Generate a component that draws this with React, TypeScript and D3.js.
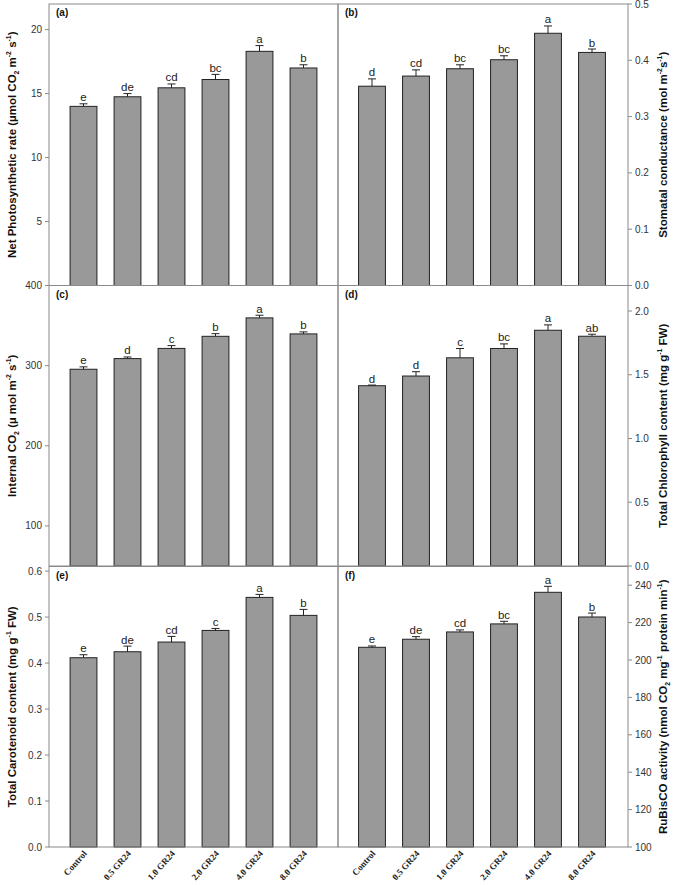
import React from "react";
import * as d3 from "d3";

const categories = ["Control", "0.5 GR24", "1.0 GR24", "2.0 GR24", "4.0 GR24", "8.0 GR24"];

const netPhotoValues = [14.0, 14.75, 15.45, 16.1, 18.3, 17.0];
const netPhotoErrors = [0.2, 0.25, 0.3, 0.4, 0.45, 0.25];
const netPhotoLetters = ["e", "de", "cd", "bc", "a", "b"];

const stomatalValues = [0.354, 0.372, 0.385, 0.401, 0.448, 0.414];
const stomatalErrors = [0.013, 0.011, 0.007, 0.007, 0.013, 0.006];
const stomatalLetters = ["d", "cd", "bc", "bc", "a", "b"];

const internalCO2Values = [295.5, 308.8, 321.5, 336.6, 359.6, 339.6];
const internalCO2Errors = [3, 2, 3.5, 3.3, 3.3, 2.5];
const internalCO2Letters = ["e", "d", "c", "b", "a", "b"];

const chlorophyllValues = [1.414, 1.49, 1.633, 1.706, 1.849, 1.802];
const chlorophyllErrors = [0.005, 0.034, 0.073, 0.036, 0.042, 0.016];
const chlorophyllLetters = ["d", "d", "c", "bc", "a", "ab"];

const carotenoidValues = [0.4116, 0.4246, 0.4457, 0.471, 0.5428, 0.5037];
const carotenoidErrors = [0.0065, 0.0123, 0.0123, 0.0043, 0.0065, 0.013];
const carotenoidLetters = ["e", "de", "cd", "c", "a", "b"];

const rubiscoValues = [206.8, 211.1, 215.0, 219.3, 236.2, 223.0];
const rubiscoErrors = [0.7, 1.4, 1.1, 1.4, 3.2, 2.1];
const rubiscoLetters = ["e", "de", "cd", "bc", "a", "b"];

const ticksA = [5, 10, 15, 20];
const ticksB = [0, 0.1, 0.2, 0.3, 0.4, 0.5];
const ticksC = [100, 200, 300, 400];
const ticksD = [0, 0.5, 1.0, 1.5, 2.0];
const ticksE = [0, 0.1, 0.2, 0.3, 0.4, 0.5, 0.6];
const ticksF = [100, 120, 140, 160, 180, 200, 220, 240];

type TitlePart = { t: string; s?: "sub" | "sup" };

const titleA: TitlePart[] = [
  { t: "Net Photosynthetic rate (µmol CO" }, { t: "2", s: "sub" }, { t: " m" }, { t: "-2", s: "sup" }, { t: " s" }, { t: "-1", s: "sup" }, { t: ")" },
];
const titleB: TitlePart[] = [
  { t: "Stomatal conductance (mol m" }, { t: "-2", s: "sup" }, { t: "s" }, { t: "-1", s: "sup" }, { t: ")" },
];
const titleC: TitlePart[] = [
  { t: "Internal CO" }, { t: "2", s: "sub" }, { t: " (µ mol m" }, { t: "-2", s: "sup" }, { t: " s" }, { t: "-1", s: "sup" }, { t: ")" },
];
const titleD: TitlePart[] = [
  { t: "Total Chlorophyll content  (mg g" }, { t: "-1", s: "sup" }, { t: " FW)" },
];
const titleE: TitlePart[] = [
  { t: "Total Carotenoid content (mg g" }, { t: "-1", s: "sup" }, { t: " FW)" },
];
const titleF: TitlePart[] = [
  { t: "RuBisCO activity (nmol CO" }, { t: "2", s: "sub" }, { t: " mg" }, { t: "-1", s: "sup" }, { t: " protein min" }, { t: "-1", s: "sup" }, { t: ")" },
];

const W = 676;
const H = 885;
const X0 = 49;
const XM = 338;
const X1 = 628;
const ROWS: [number, number][] = [
  [4, 285.5],
  [285.5, 566],
  [566.5, 847],
];

const FRAME = "#8a8a8a";
const SANS = "Liberation Sans, Arial, sans-serif";

interface PanelProps {
  label: string;
  side: "left" | "right";
  row: number;
  domain: [number, number];
  ticks: number[];
  fmt: (v: number) => string;
  values: number[];
  errors: number[];
  letters: string[];
  title: TitlePart[];
  titleSize: number;
  showX: boolean;
}

function Title({ parts, x, y, size }: { parts: TitlePart[]; x: number; y: number; size: number }) {
  const nodes: React.ReactNode[] = [];
  let shift = 0;
  parts.forEach((p, i) => {
    let target = 0;
    if (p.s === "sup") target = -size * 0.4;
    if (p.s === "sub") target = size * 0.25;
    const dy = target - shift;
    shift = target;
    nodes.push(
      <tspan key={i} dy={dy} fontSize={p.s ? size * 0.6 : size}>
        {p.t}
      </tspan>
    );
  });
  return (
    <text
      transform={`translate(${x},${y}) rotate(-90)`}
      textAnchor="middle"
      fontFamily={SANS}
      fontWeight="bold"
      fontSize={size}
      fill="#111"
    >
      {nodes}
    </text>
  );
}

function Panel(p: PanelProps) {
  const [top, bottom] = ROWS[p.row];
  const left = p.side === "left" ? X0 : XM;
  const right = p.side === "left" ? XM : X1;
  const x = d3
    .scaleBand<string>()
    .domain(categories)
    .range(p.side === "left" ? [61.5, 325.5] : [350, 614])
    .paddingInner(0.39)
    .paddingOuter(0.195);
  const y = d3.scaleLinear().domain(p.domain).range([bottom, top]);
  const axisX = p.side === "left" ? left : right;
  const dir = p.side === "left" ? -1 : 1;
  const titleX = p.side === "left" ? 16 : 667;
  const midY = (top + bottom) / 2;
  return (
    <g>
      {categories.map((c, i) => {
        const bx = x(c)!;
        const bw = x.bandwidth();
        const cx = bx + bw / 2;
        const yTop = y(p.values[i]);
        const yErr = y(p.values[i] + p.errors[i]);
        return (
          <g key={c}>
            <rect x={bx} y={yTop} width={bw} height={bottom - yTop} fill="#999999" stroke="#222" strokeWidth={1} />
            <line x1={cx} x2={cx} y1={yTop} y2={yErr} stroke="#222" strokeWidth={1} />
            <line x1={cx - 4} x2={cx + 4} y1={yErr} y2={yErr} stroke="#222" strokeWidth={1} />
            <text x={cx} y={yErr - 2.5} textAnchor="middle" fontFamily={SANS} fontSize={11.5} fill="#222">
              {p.letters[i]}
            </text>
          </g>
        );
      })}
      <rect x={left} y={top} width={right - left} height={bottom - top} fill="none" stroke={FRAME} strokeWidth={1} />
      {p.ticks.map((t) => (
        <g key={t}>
          <line x1={axisX} x2={axisX + dir * 4} y1={y(t)} y2={y(t)} stroke={FRAME} strokeWidth={1} />
          <text
            x={axisX + dir * 7}
            y={y(t)}
            dy="0.35em"
            textAnchor={p.side === "left" ? "end" : "start"}
            fontFamily={SANS}
            fontSize={10}
            fill="#333"
          >
            {p.fmt(t)}
          </text>
        </g>
      ))}
      <text x={left + 7} y={top + 12} fontFamily={SANS} fontWeight="bold" fontSize={10} fill="#111">
        {p.label}
      </text>
      <Title parts={p.title} x={titleX} y={midY} size={p.titleSize} />
      {p.showX &&
        categories.map((c) => {
          const cx = x(c)! + x.bandwidth() / 2;
          return (
            <text
              key={c}
              transform={`translate(${cx + 4},${bottom + 7}) rotate(-48)`}
              textAnchor="end"
              fontFamily="Liberation Serif, Times New Roman, serif"
              fontWeight="bold"
              fontSize={9}
              fill="#222"
            >
              {c}
            </text>
          );
        })}
    </g>
  );
}

const f0 = d3.format("d");
const f1 = d3.format(".1f");

export default function App() {
  return (
    <svg width={W} height={H} style={{ position: "absolute", left: 0, top: 0, background: "#fff" }}>
      <rect width={W} height={H} fill="#fff" />
      <Panel label="(a)" side="left" row={0} domain={[0, 22]} ticks={ticksA} fmt={f0} values={netPhotoValues} errors={netPhotoErrors} letters={netPhotoLetters} title={titleA} titleSize={11.5} showX={false} />
      <Panel label="(b)" side="right" row={0} domain={[0, 0.5]} ticks={ticksB} fmt={f1} values={stomatalValues} errors={stomatalErrors} letters={stomatalLetters} title={titleB} titleSize={11.5} showX={false} />
      <Panel label="(c)" side="left" row={1} domain={[50, 400]} ticks={ticksC} fmt={f0} values={internalCO2Values} errors={internalCO2Errors} letters={internalCO2Letters} title={titleC} titleSize={11.5} showX={false} />
      <Panel label="(d)" side="right" row={1} domain={[0, 2.2]} ticks={ticksD} fmt={f1} values={chlorophyllValues} errors={chlorophyllErrors} letters={chlorophyllLetters} title={titleD} titleSize={11.5} showX={false} />
      <Panel label="(e)" side="left" row={2} domain={[0, 0.61]} ticks={ticksE} fmt={f1} values={carotenoidValues} errors={carotenoidErrors} letters={carotenoidLetters} title={titleE} titleSize={11.5} showX={true} />
      <Panel label="(f)" side="right" row={2} domain={[100, 250]} ticks={ticksF} fmt={f0} values={rubiscoValues} errors={rubiscoErrors} letters={rubiscoLetters} title={titleF} titleSize={11.5} showX={true} />
    </svg>
  );
}
